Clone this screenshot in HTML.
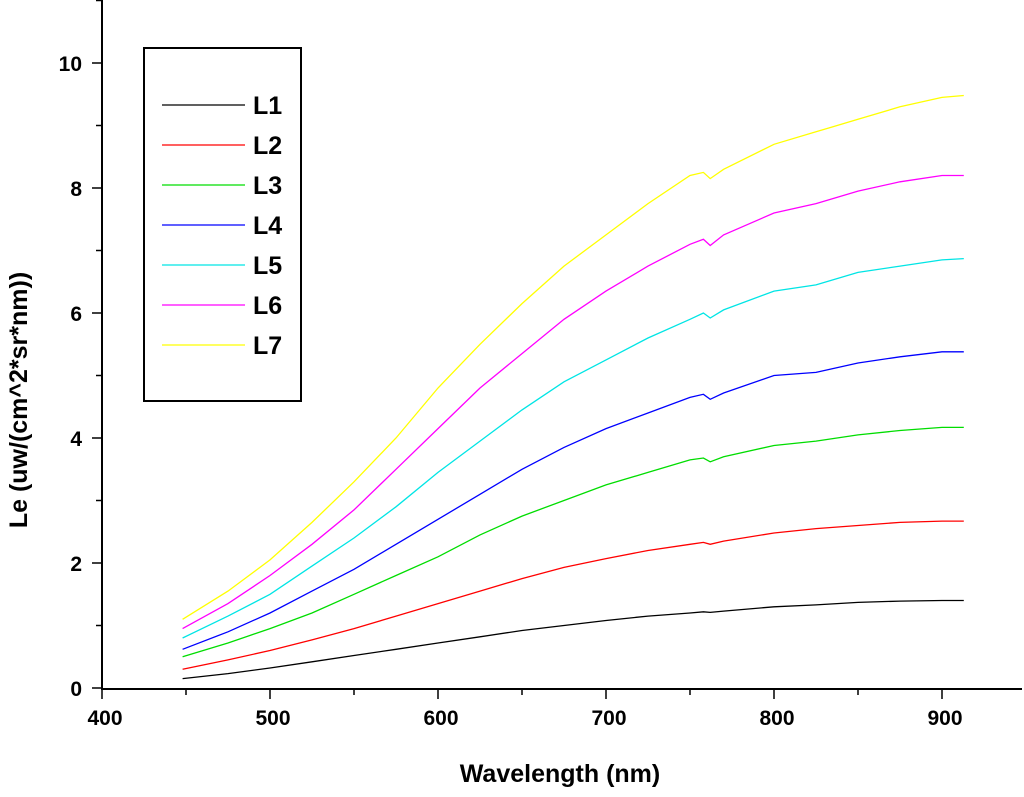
<!DOCTYPE html>
<html><head><meta charset="utf-8"><style>
body{margin:0;background:#fff;}
svg text{font-family:"Liberation Sans",Arial,sans-serif;font-weight:bold;fill:#000;}
</style></head><body>
<svg id="chart" width="1024" height="792" xmlns="http://www.w3.org/2000/svg">
<g id="axes"></g><g id="series"></g><g id="legend"></g>
</svg>
<script>
const wavelengths=[448,475,500,525,550,575,600,625,650,675,700,725,750,758,762,770,800,825,850,875,900,913];
const L1=[0.15,0.23,0.32,0.42,0.52,0.62,0.72,0.82,0.92,1.0,1.08,1.15,1.2,1.22,1.21,1.23,1.3,1.33,1.37,1.39,1.4,1.4];
const L2=[0.3,0.45,0.6,0.77,0.95,1.15,1.35,1.55,1.75,1.93,2.07,2.2,2.3,2.33,2.3,2.35,2.48,2.55,2.6,2.65,2.67,2.67];
const L3=[0.5,0.72,0.95,1.2,1.5,1.8,2.1,2.45,2.75,3.0,3.25,3.45,3.65,3.68,3.62,3.7,3.88,3.95,4.05,4.12,4.17,4.17];
const L4=[0.62,0.9,1.2,1.55,1.9,2.3,2.7,3.1,3.5,3.85,4.15,4.4,4.65,4.7,4.62,4.72,5.0,5.05,5.2,5.3,5.38,5.38];
const L5=[0.8,1.15,1.5,1.95,2.4,2.9,3.45,3.95,4.45,4.9,5.25,5.6,5.9,6.0,5.92,6.05,6.35,6.45,6.65,6.75,6.85,6.87];
const L6=[0.95,1.35,1.8,2.3,2.85,3.5,4.15,4.8,5.35,5.9,6.35,6.75,7.1,7.18,7.08,7.25,7.6,7.75,7.95,8.1,8.2,8.2];
const L7=[1.1,1.55,2.05,2.65,3.3,4.0,4.8,5.5,6.15,6.75,7.25,7.75,8.2,8.25,8.15,8.3,8.7,8.9,9.1,9.3,9.45,9.48];
const seriesNames=["L1","L2","L3","L4","L5","L6","L7"];
const seriesColors=["#000000","#ff0000","#00dd00","#0000ff","#00e5e5","#ff00ff","#ffff00"];
const xTicks=[400,500,600,700,800,900];
const yTicks=[0,2,4,6,8,10];
const allSeries=[L1,L2,L3,L4,L5,L6,L7];
const NS="http://www.w3.org/2000/svg";
function X(v){return 102+(v-400)*1.68;}
function Y(v){return 688-v*62.5;}
function mk(tag,attrs,parent){const e=document.createElementNS(NS,tag);for(const k in attrs)e.setAttribute(k,attrs[k]);parent.appendChild(e);return e;}
const ax=document.getElementById('axes');
let e=mk('line',{x1:102,y1:0,x2:102,y2:689,stroke:'#000','stroke-width':2},ax);


e=mk('line',{x1:101,y1:689,x2:1022,y2:689,stroke:'#000','stroke-width':2},ax);


for(let v=400;v<=950;v+=50){const maj=v%100===0;mk('line',{x1:X(v),y1:689,x2:X(v),y2:maj?699:695,stroke:'#000','stroke-width':1.5},ax);}
xTicks.forEach(v=>{const t=mk('text',{x:X(v)+3,y:725,'font-size':21,'text-anchor':'middle',transform:'scale(1,1)'},ax);t.textContent=v;

});
for(let v=0;v<=11;v+=1){const maj=v%2===0;mk('line',{x1:maj?92:96,y1:Y(v),x2:102,y2:Y(v),stroke:'#000','stroke-width':1.5},ax);}
yTicks.forEach(v=>{const t=mk('text',{x:82,y:Y(v)+8,'font-size':21,'text-anchor':'end'},ax);t.textContent=v;

});
e=mk('text',{x:560,y:782,'font-size':25,'text-anchor':'middle'},ax);e.textContent='Wavelength (nm)';


e=mk('text',{x:0,y:0,'font-size':25,'text-anchor':'middle',transform:'translate(27,400) rotate(-90)'},ax);e.textContent='Le (uw/(cm^2*sr*nm))';


const sg=document.getElementById('series');
allSeries.forEach((s,i)=>{const d=s.map((v,j)=>(j?'L':'M')+X(wavelengths[j]).toFixed(1)+','+Y(v).toFixed(1)).join(' ');
const p=mk('path',{d:d,fill:'none',stroke:seriesColors[i],'stroke-width':1.3},sg);

});
const lg=document.getElementById('legend');
e=mk('rect',{x:144,y:48,width:157,height:353,fill:'#fff',stroke:'#000','stroke-width':2},lg);


seriesNames.forEach((n,i)=>{const y=105+i*40;
const l=mk('line',{x1:162,y1:y,x2:245,y2:y,stroke:seriesColors[i],'stroke-width':1.3},lg);


const t=mk('text',{x:253,y:y+9,'font-size':25},lg);t.textContent=n;

});
</script>
</body></html>
